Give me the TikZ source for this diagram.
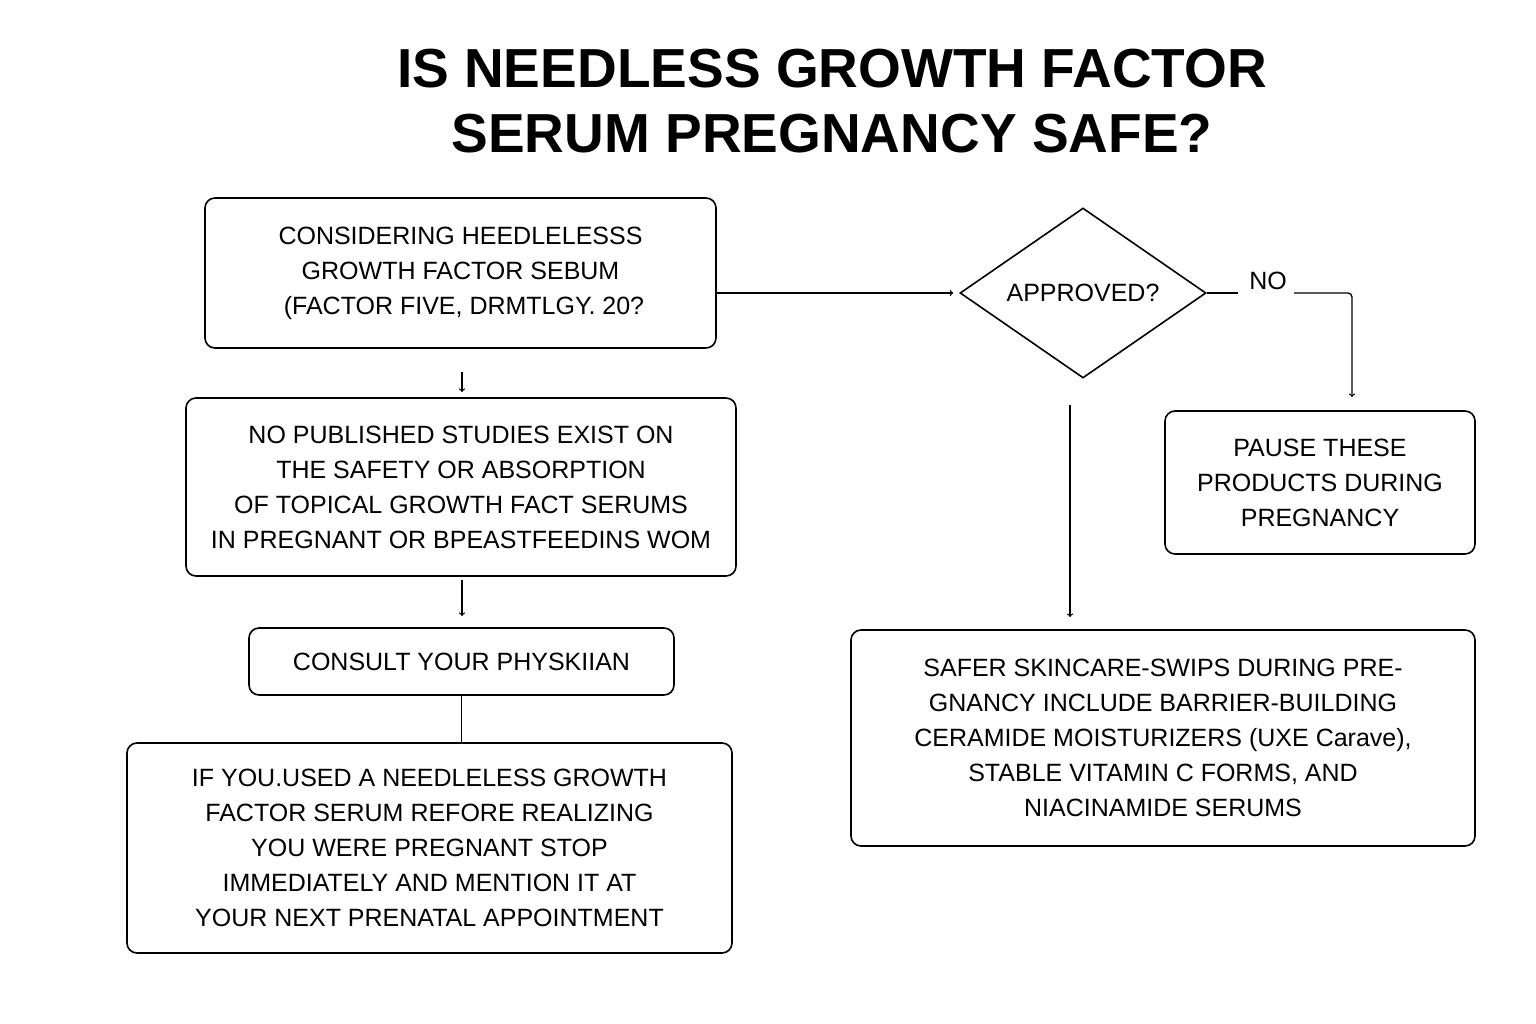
\documentclass[tikz,border=0pt]{standalone}
\usepackage{fontspec}
\setmainfont{Liberation Sans}
\usetikzlibrary{shapes.geometric,positioning}

\tikzset{
  stepbox/.style={draw, rounded corners=10pt, line width=1.6pt, align=center,
    font=\fontsize{25}{35}\selectfont, inner sep=0pt},
  flow/.style={->, line width=1.3pt},
}

\begin{document}
\begin{tikzpicture}[x=1pt, y=-1pt]
\useasboundingbox (0,0) rectangle (1536,1024);

% title
\node (title) at (832,101) [align=center, font=\fontsize{55}{65}\selectfont\bfseries]
  {IS NEEDLESS GROWTH FACTOR\\SERUM PREGNANCY SAFE?};

% left column
\node (consider) at (460.5,273) [stepbox, minimum width=511pt, minimum height=150pt]
  {CONSIDERING HEEDLELESSS\\GROWTH FACTOR SEBUM\\\ (FACTOR FIVE, DRMTLGY. 20?};
\node (studies) at (461,487) [stepbox, minimum width=550pt, minimum height=178pt]
  {NO PUBLISHED STUDIES EXIST ON\\THE SAFETY OR ABSORPTION\\OF TOPICAL GROWTH FACT SERUMS\\IN PREGNANT OR BPEASTFEEDINS WOM};
\node (consult) at (461.5,661.5) [stepbox, minimum width=425pt, minimum height=67pt]
  {CONSULT YOUR PHYSKIIAN};
\node (used) at (429.5,848) [stepbox, minimum width=605pt, minimum height=210pt]
  {IF YOU.USED A NEEDLELESS GROWTH\\FACTOR SERUM REFORE REALIZING\\YOU WERE PREGNANT  STOP\\IMMEDIATELY AND MENTION IT  AT\\YOUR NEXT PRENATAL APPOINTMENT};

% right column
\node (approved) at (1083,293) [diamond, draw, line width=1.6pt, aspect=1.45,
  minimum width=246pt, minimum height=170pt, inner sep=0pt,
  font=\fontsize{25}{30}\selectfont] {APPROVED?};
\node (pause) at (1320,482.5) [stepbox, minimum width=310pt, minimum height=143pt]
  {PAUSE THESE\\PRODUCTS DURING\\PREGNANCY};
\node (safer) at (1163,738) [stepbox, minimum width=624pt, minimum height=216pt]
  {SAFER SKINCARE-SWIPS DURING PRE-\\GNANCY INCLUDE BARRIER-BUILDING\\CERAMIDE MOISTURIZERS (UXE Carave),\\STABLE VITAMIN C FORMS, AND\\NIACINAMIDE SERUMS};
\node (no) at (1268,281) [font=\fontsize{25}{30}\selectfont] {NO};

\coordinate (a1) at (462,372);
\coordinate (a2) at (462,392);
\coordinate (b1) at (462,580);
\coordinate (b2) at (462,616);
\coordinate (v1) at (1070,405);
\coordinate (v2) at (1070,617);
\coordinate (noL) at (1238,293);
\coordinate (noR) at (1294,293);
\coordinate (noTurn) at (1352,293);
\coordinate (noEnd) at (1352,397);

% connectors
\draw [flow] (consider.east |- approved.west) -- ([xshift=-6pt]approved.west);
\draw [flow] (a1) -- (a2);
\draw [flow] (b1) -- (b2);
\draw [line width=1.3pt] (consult.south) -- (used.north -| consult.south);
\draw [flow] (v1) -- (v2);
\draw [line width=1.3pt] (approved.east) -- (noL);
\draw [flow, rounded corners=4pt] (noR) -- (noTurn) -- (noEnd);

\end{tikzpicture}
\end{document}
